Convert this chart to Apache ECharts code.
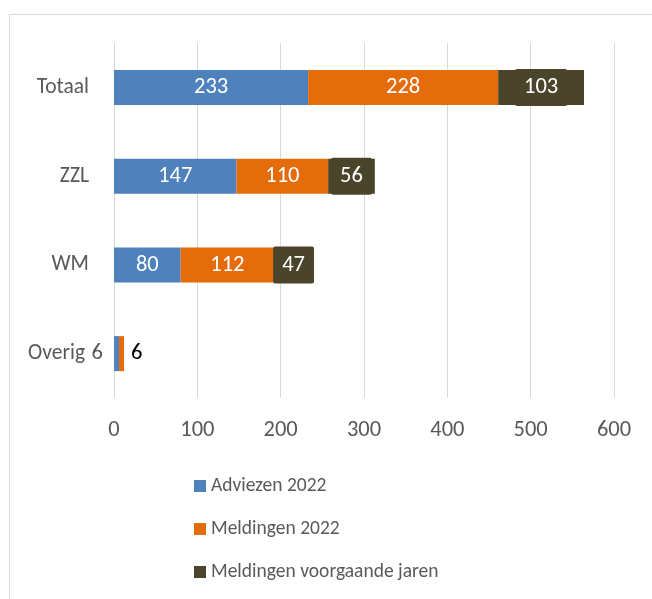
<!DOCTYPE html>
<html>
<head>
<meta charset="utf-8">
<script src="https://cdn.jsdelivr.net/npm/echarts@6/dist/echarts.min.js"></script>
<style>
  html, body { margin: 0; padding: 0; background: #fff; }
  #chart { width: 652px; height: 599px; }
</style>
</head>
<body>
<div id="chart"></div>
<script>
var categories = ['Totaal', 'ZZL', 'WM', 'Overig'];
var adviezen = [233, 147, 80, 6];
var meldingen = [228, 110, 112, 6];
var voorgaand = [103, 56, 47, 0];

var chart = echarts.init(document.getElementById('chart'));

var font = 'Calibri, Carlito, Lato, sans-serif';
var gray = '#595959';
var dark = '#4a452a';

// Overig is too thin for labels inside the bar, so they go outside
function withOverigLabel(values, outside) {
    return values.map(function (v, i) {
        var item = { value: v };
        if (categories[i] === 'Overig') item.label = outside;
        return item;
    });
}

var option = {
    animation: false,
    textStyle: { fontFamily: font },
    graphic: [{
        type: 'rect',
        shape: { x: 9.5, y: 14.5, width: 700, height: 700 },
        style: { fill: 'none', stroke: '#d9d9d9', lineWidth: 1 }
    }],
    grid: { left: 114, right: 38, top: 43, bottom: 201 },
    xAxis: {
        type: 'value',
        min: 0,
        max: 600,
        interval: 100,
        axisLine: { show: false },
        axisTick: { show: false },
        axisLabel: { color: gray, fontSize: 22.5, margin: 21, fontFamily: font },
        splitLine: { lineStyle: { color: '#d9d9d9', width: 1 } }
    },
    yAxis: {
        type: 'category',
        inverse: true,
        data: categories.map(function (c) {
            // leave room for the outside "6" label next to Overig
            return c === 'Overig' ? { value: c, textStyle: { padding: [0, 4, 0, 0] } } : c;
        }),
        axisLine: { show: false },
        axisTick: { show: false },
        axisLabel: { color: gray, fontSize: 21.5, margin: 25, fontFamily: font }
    },
    legend: {
        orient: 'vertical',
        left: 189,
        top: 471,
        itemWidth: 12,
        itemHeight: 12,
        itemGap: 23,
        icon: 'rect',
        textStyle: { color: gray, fontSize: 19.5, fontFamily: font },
        data: ['Adviezen 2022', 'Meldingen 2022', 'Meldingen voorgaande jaren']
    },
    series: [
        {
            name: 'Adviezen 2022',
            type: 'bar',
            stack: 'tot',
            barWidth: 35,
            itemStyle: { color: '#4f81bd' },
            label: { show: true, position: 'inside', color: '#fff', fontSize: 22.5, fontFamily: font },
            data: withOverigLabel(adviezen, { position: 'left', color: gray, distance: 11 })
        },
        {
            name: 'Meldingen 2022',
            type: 'bar',
            stack: 'tot',
            barWidth: 35,
            itemStyle: { color: '#e46c0a' },
            label: { show: true, position: 'inside', color: '#fff', fontSize: 22.5, fontFamily: font },
            data: withOverigLabel(meldingen, { position: 'right', color: '#000', distance: 7 })
        },
        {
            name: 'Meldingen voorgaande jaren',
            type: 'bar',
            stack: 'tot',
            barWidth: 35,
            itemStyle: { color: dark },
            label: {
                show: true,
                position: 'inside',
                color: '#fff',
                fontSize: 22.5,
                fontFamily: font,
                lineHeight: 23,
                backgroundColor: dark,
                borderRadius: 2,
                padding: [7, 9, 7, 9]
            },
            data: voorgaand.map(function (v) {
                return v ? v : { value: v, label: { show: false } };
            })
        }
    ]
};

chart.setOption(option);
</script>
</body>
</html>
